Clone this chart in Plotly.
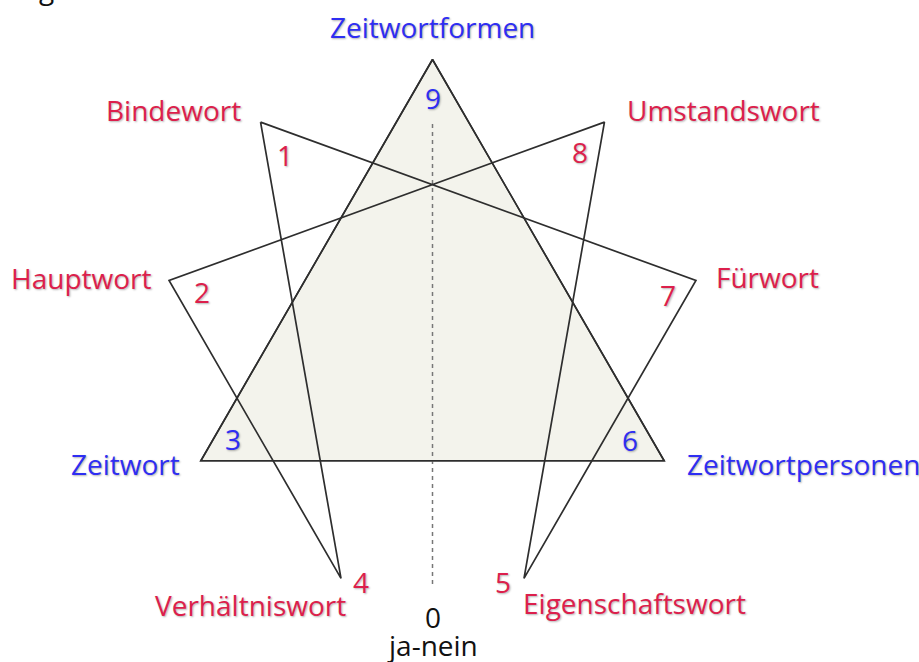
import math
import plotly.graph_objects as go

# ---------------- data ----------------
point_numbers = [1, 2, 3, 4, 5, 6, 7, 8, 9]
point_names = ["Bindewort", "Hauptwort", "Zeitwort", "Verhältniswort",
               "Eigenschaftswort", "Zeitwortpersonen", "Fürwort",
               "Umstandswort", "Zeitwortformen"]
point_group = ["hexad", "hexad", "triangle", "hexad", "hexad",
               "triangle", "hexad", "hexad", "triangle"]
triangle_sequence = [9, 3, 6, 9]
hexad_sequence = [1, 4, 2, 8, 5, 7, 1]
zero_label = "0"
zero_name = "ja-nein"

# ---------------- geometry ----------------
STEP_DEG = 40.0


def pos(n):
    a = math.radians(n * STEP_DEG)
    return -math.sin(a), math.cos(a)


# pixel mapping (figure 919x662, center of circle)
W, H = 919, 662
CX, CY, R = 432.5, 327.0, 267.5
x_range = [-CX / R, (W - CX) / R]
y_range = [(CY - H) / R, CY / R]

BLUE = "#2e2ef2"
RED = "#dc1f4c"
LINE = "#2e2e2e"
FILL = "#f3f3ec"
FONT = "Open Sans"
FS = 28
SHADOW = "1px 1px 2px rgba(0,0,0,0.30)"

fig = go.Figure()

# triangle fill
tx = [pos(n)[0] for n in triangle_sequence]
ty = [pos(n)[1] for n in triangle_sequence]
fig.add_trace(go.Scatter(x=tx, y=ty, mode="lines", fill="toself",
                         fillcolor=FILL, line=dict(color=LINE, width=1.6),
                         hoverinfo="skip", showlegend=False))

# dotted axis 9 -> 0
fig.add_trace(go.Scatter(x=[0, 0], y=[(CY - 124) / R, (CY - 587) / R], mode="lines",
                         line=dict(color="#777777", width=1.5, dash="4px,4px"),
                         hoverinfo="skip", showlegend=False))

# hexad
hx = [pos(n)[0] for n in hexad_sequence]
hy = [pos(n)[1] for n in hexad_sequence]
fig.add_trace(go.Scatter(x=hx, y=hy, mode="lines",
                         line=dict(color=LINE, width=1.7),
                         hoverinfo="skip", showlegend=False))

# triangle outline on top
fig.add_trace(go.Scatter(x=tx, y=ty, mode="lines",
                         line=dict(color=LINE, width=1.6),
                         hoverinfo="skip", showlegend=False))

# label placement (pixels: anchor, dx, dy(down+)) -- style, not data
outer_place = {
    1: ("right", -18, -12),
    2: ("right", -16, -3),
    3: ("right", -19, 3),
    4: ("right", 7, 27),
    5: ("left", -3, 25),
    6: ("left", 21, 3),
    7: ("left", 18, -4),
    8: ("left", 21, -12),
    9: ("center", 0, -33),
}
inner_place = {
    1: (24, 33), 2: (33, 11), 3: (32, -22), 4: (20, 4), 5: (-21, 4),
    6: (-34, -21), 7: (-28, 14), 8: (-24, 30), 9: (0, 38),
}

annotations = []
for n, name, grp in zip(point_numbers, point_names, point_group):
    col = BLUE if grp == "triangle" else RED
    x, y = pos(n)
    anc, dx, dy = outer_place[n]
    annotations.append(dict(x=x, y=y, text=name, showarrow=False,
                            xanchor=anc, yanchor="middle", xshift=dx, yshift=-dy,
                            font=dict(family=FONT, size=FS, color=col, shadow=SHADOW)))
    ix, iy = inner_place[n]
    annotations.append(dict(x=x, y=y, text=str(n), showarrow=False,
                            xanchor="center", yanchor="middle", xshift=ix, yshift=-iy,
                            font=dict(family=FONT, size=FS, color=col, shadow=SHADOW)))

# zero at bottom
zx, zy = 0.0, -1.0
annotations.append(dict(x=zx, y=zy, text=zero_label, showarrow=False,
                        xanchor="center", yanchor="middle", yshift=-22,
                        font=dict(family=FONT, size=FS, color="#111111")))
annotations.append(dict(x=zx, y=zy, text=zero_name, showarrow=False,
                        xanchor="center", yanchor="middle", yshift=-50,
                        font=dict(family=FONT, size=FS, color="#111111")))
# cut-off glyph at the top-left corner
annotations.append(dict(x=(46 - CX) / R, y=(CY - 9) / R, text="g", showarrow=False,
                        xanchor="center", yanchor="bottom",
                        font=dict(family=FONT, size=FS, color="#111111")))

fig.update_layout(
    width=W, height=H,
    margin=dict(l=0, r=0, t=0, b=0),
    paper_bgcolor="white", plot_bgcolor="white",
    xaxis=dict(range=x_range, visible=False, fixedrange=True),
    yaxis=dict(range=y_range, visible=False, fixedrange=True),
    annotations=annotations,
    showlegend=False,
)

fig.write_html("out.html", config={"displayModeBar": False},
               post_script="document.body.style.margin='0';")
